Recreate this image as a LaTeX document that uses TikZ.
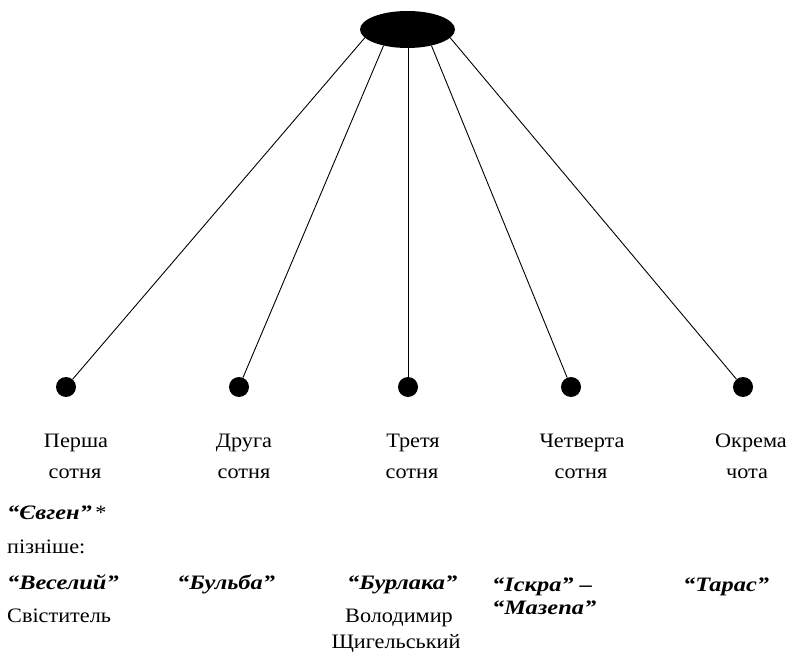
\documentclass[tikz,border=0pt]{standalone}
\usepackage{fontspec}
\setmainfont{Liberation Serif}[FakeStretch=1.085]
\newfontfamily\nickfont{Liberation Serif}[FakeStretch=1.19]
\usetikzlibrary{shapes.geometric}
\begin{document}
\begin{tikzpicture}[x=1pt,y=-1pt,
  dot/.style={circle,fill=black,minimum size=20pt,inner sep=0pt},
  conn/.style={draw=black,line width=0.9pt},
  lbl/.style={anchor=base,inner sep=0pt,font=\fontsize{20.5}{22}\selectfont},
  lbll/.style={anchor=base west,inner sep=0pt,font=\fontsize{20.5}{22}\selectfont},
  nick/.style={anchor=base west,inner sep=0pt,font=\fontsize{20.5}{22}\selectfont\nickfont\bfseries\itshape}]
\useasboundingbox (0,0) rectangle (790,652);
\node[ellipse,fill=black,minimum width=95pt,minimum height=37pt,inner sep=0pt] (e) at (407.5,29.5) {};
\node[dot] (d1) at (66,387) {};
\node[dot] (d2) at (239,387) {};
\node[dot] (d3) at (408,387) {};
\node[dot] (d4) at (571,387) {};
\node[dot] (d5) at (743,387) {};
\draw[conn] (e.191) -- (d1);
\draw[conn] (e.214) -- (d2);
\draw[conn] (e.south) ++(0.5,0) -- (d3);
\draw[conn] (e.326) -- (d4);
\draw[conn] (e.349) -- (d5);
% unit labels
\node[lbl] (u1a) at (76,447) {Перша};
\node[lbl] (u1b) at (75,478) {сотня};
\node[lbl] (u2a) at (244,447) {Друга};
\node[lbl] (u2b) at (244,478) {сотня};
\node[lbl] (u3a) at (413,447) {Третя};
\node[lbl] (u3b) at (412,478) {сотня};
\node[lbl] (u4a) at (582,447) {Четверта};
\node[lbl] (u4b) at (581,478) {сотня};
\node[lbl] (u5a) at (751,447) {Окрема};
\node[lbl] (u5b) at (747,478) {чота};
% commanders
\node[nick] (n1) at (7,519) {“Євген”\,{\normalfont\fontsize{20.5}{22}\selectfont *}};
\node[lbll] (n1b) at (7,553) {пізніше:};
\node[nick] (n1c) at (7,589) {“Веселий”};
\node[lbll] (n1d) at (7,622) {Свіститель};
\node[nick] (n2) at (177,589) {“Бульба”};
\node[nick] (n3) at (347,589) {“Бурлака”};
\node[lbl] (n3b) at (399,622) {Володимир};
\node[lbl] (n3c) at (396,648) {Щигельський};
\node[nick] (n4) at (492,591) {“Іскра” –};
\node[nick] (n4b) at (492,614) {“Мазепа”};
\node[nick] (n5) at (683,591) {“Тарас”};
\end{tikzpicture}
\end{document}
